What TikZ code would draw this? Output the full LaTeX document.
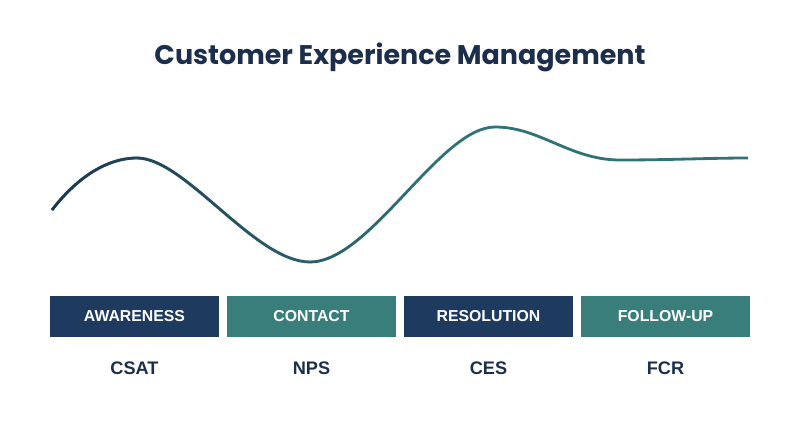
\documentclass[tikz,border=0pt]{standalone}
\usepackage{fontspec}
\setmainfont{Liberation Sans}
\newfontfamily\titlefont{Poppins}
\usetikzlibrary{fadings}
\definecolor{titleNavy}{RGB}{27, 46, 76}
\definecolor{boxNavy}{RGB}{30, 58, 95}
\definecolor{boxTeal}{RGB}{58, 126, 124}
\definecolor{curveNavy}{RGB}{26, 44, 74}
\definecolor{curveTeal}{RGB}{48, 114, 118}
\pgfdeclarehorizontalshading{navyshade}{100bp}{color(0bp)=(white); color(20bp)=(white); color(52bp)=(black); color(100bp)=(black)}
\pgfdeclarefading{navyfade}{\pgfuseshading{navyshade}}
\tikzset{
  stage/.style={minimum width=5.07cm, minimum height=1.23cm, inner sep=0pt,
    text=white, font=\bfseries\fontsize{13.5}{16}\selectfont},
  metric/.style={text=titleNavy, font=\bfseries\fontsize{15.5}{18}\selectfont}
}

\begin{document}
\begin{tikzpicture}[x=0.03cm, y=-0.03cm]
    \useasboundingbox (0,0) rectangle (800,447);
    \node[text=titleNavy, font=\titlefont\bfseries\fontsize{23}{26}\selectfont] (title) at (400,57) {Customer Experience Management};
    % the journey curve
    \draw[curveTeal, line width=2.4pt] (52,210) .. controls (75,180) and (105,158) .. (137,158)
      .. controls (185,158) and (255,262) .. (310,262)
      .. controls (370,262) and (440,127) .. (495,127)
      .. controls (540,127) and (570,160) .. (620,160)
      .. controls (670,160) and (710,158) .. (748,158);
    \draw[curveNavy, line width=2.4pt, path fading=navyfade] (52,210) .. controls (75,180) and (105,158) .. (137,158)
      .. controls (185,158) and (255,262) .. (310,262)
      .. controls (370,262) and (440,127) .. (495,127)
      .. controls (540,127) and (570,160) .. (620,160)
      .. controls (670,160) and (710,158) .. (748,158);
    % stages
    \node[stage, fill=boxNavy] (aware) at (134.5,316.5) {AWARENESS};
    \node[stage, fill=boxTeal] (contact) at (311.5,316.5) {CONTACT};
    \node[stage, fill=boxNavy] (resol) at (488.5,316.5) {RESOLUTION};
    \node[stage, fill=boxTeal] (follow) at (665.5,316.5) {FOLLOW-UP};
    % metrics
    \node[metric] (csat) at (134.5,368) {CSAT};
    \node[metric] (nps) at (311.5,368) {NPS};
    \node[metric] (ces) at (488.5,368) {CES};
    \node[metric] (fcr) at (665.5,368) {FCR};
  \end{tikzpicture}
\end{document}
